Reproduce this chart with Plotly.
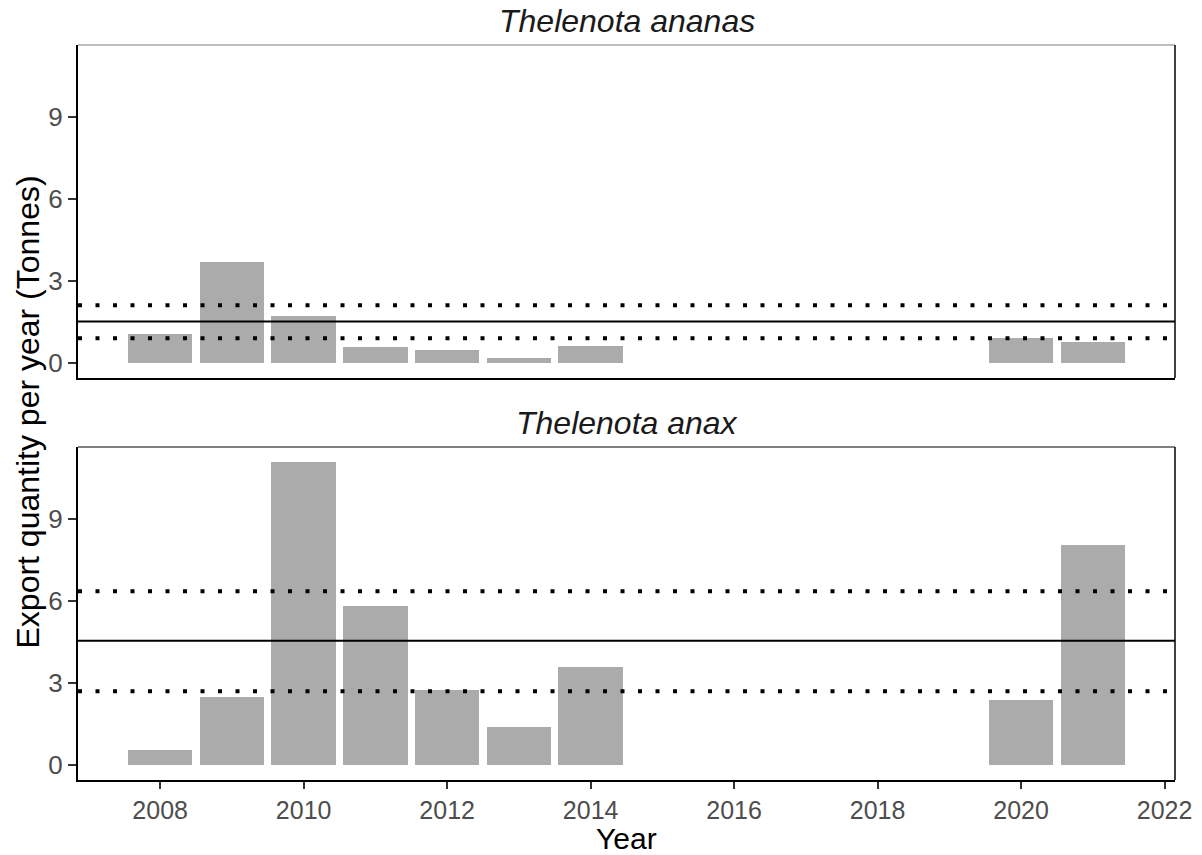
import plotly.graph_objects as go

# Annual export quantities (tonnes) per species
years = [2008, 2009, 2010, 2011, 2012, 2013, 2014, 2020, 2021]
ananas_tonnes = [1.07, 3.69, 1.70, 0.58, 0.47, 0.19, 0.62, 0.92, 0.78]
anax_tonnes = [0.56, 2.47, 11.09, 5.81, 2.73, 1.38, 3.60, 2.36, 8.07]

# Mean and lower/upper reference levels per species
ananas_mean, ananas_low, ananas_high = 1.51, 0.90, 2.11
anax_mean, anax_low, anax_high = 4.55, 2.70, 6.36

species = ["Thelenota ananas", "Thelenota anax"]
x_ticks = [2008, 2010, 2012, 2014, 2016, 2018, 2020, 2022]
y_ticks = [0, 3, 6, 9]

FONT = "Liberation Sans, Arial, sans-serif"
BAR = "#ABABAB"
TICK_GREY = "#4D4D4D"

fig = go.Figure()
fig.add_trace(go.Bar(x=years, y=ananas_tonnes, width=0.9, marker=dict(color=BAR, line=dict(width=0)),
                     xaxis="x", yaxis="y", showlegend=False))
fig.add_trace(go.Bar(x=years, y=anax_tonnes, width=0.9, marker=dict(color=BAR, line=dict(width=0)),
                     xaxis="x2", yaxis="y2", showlegend=False))

ymax = max(max(ananas_tonnes), max(anax_tonnes))
pad = 0.05 * ymax
yrange = [-pad, ymax + pad]
xspan = (max(years) + 0.45) - (min(years) - 0.45)
xrange = [min(years) - 0.45 - 0.05 * xspan, max(years) + 0.45 + 0.05 * xspan]

common_y = dict(range=yrange, tickvals=y_ticks, ticks="outside", ticklen=8, tickwidth=2,
                tickcolor="#333333", showline=True, linecolor="black", linewidth=2,
                showgrid=False, zeroline=False, automargin=False,
                tickfont=dict(family=FONT, size=26, color=TICK_GREY))

fig.update_layout(
    width=1202, height=855,
    margin=dict(l=78, r=27, t=45, b=75),
    plot_bgcolor="white", paper_bgcolor="white",
    bargap=0,
    xaxis=dict(domain=[0, 1], range=xrange, anchor="y", showticklabels=False, ticks="",
               automargin=False,
               showline=True, linecolor="black", linewidth=2, showgrid=False, zeroline=False),
    yaxis=dict(domain=[0.547, 1], anchor="x", **common_y),
    xaxis2=dict(domain=[0, 1], range=xrange, anchor="y2", tickvals=x_ticks, ticks="outside",
                ticklen=7, tickwidth=2, tickcolor="#333333", automargin=False,
                showline=True, linecolor="black", linewidth=2, showgrid=False, zeroline=False,
                tickfont=dict(family=FONT, size=25, color=TICK_GREY)),
    yaxis2=dict(domain=[0, 0.453], anchor="x2", **common_y),
)

# Panel borders (top and right)
for xr, yr, top_col in [("x domain", "y domain", "#A8A8A8"), ("x2 domain", "y2 domain", "#555555")]:
    fig.add_shape(type="line", xref=xr, yref=yr, x0=0, x1=1, y0=1, y1=1,
                  line=dict(color=top_col, width=1.5), layer="above")
    fig.add_shape(type="line", xref=xr, yref=yr, x0=1, x1=1, y0=0, y1=1,
                  line=dict(color="black", width=1.5), layer="above")

# Reference lines: solid mean, dotted lower/upper levels
dot = "4px,13.5px"
for xr, yr, mean, low, high in [("x domain", "y", ananas_mean, ananas_low, ananas_high),
                                ("x2 domain", "y2", anax_mean, anax_low, anax_high)]:
    fig.add_shape(type="line", xref=xr, yref=yr, x0=0, x1=1, y0=mean, y1=mean,
                  line=dict(color="black", width=2), layer="above")
    for lvl in (low, high):
        fig.add_shape(type="line", xref=xr, yref=yr, x0=0, x1=1, y0=lvl, y1=lvl,
                      line=dict(color="black", width=4, dash=dot), layer="above")

# Panel strip titles
for name, ydom in zip(species, [1.0, 0.453]):
    fig.add_annotation(text=f"<i>{name}</i>", xref="paper", yref="paper", x=0.5, y=ydom,
                       yanchor="bottom", yshift=4, showarrow=False,
                       font=dict(family=FONT, size=32, color="#1A1A1A"))

# Axis titles
fig.add_annotation(text="Year", xref="paper", yref="paper", x=0.5, y=0, yanchor="top",
                   yshift=-40, showarrow=False, font=dict(family=FONT, size=30, color="black"))
fig.add_annotation(text="Export quantity per year (Tonnes)", xref="paper", yref="paper",
                   x=0, y=0.5, xanchor="right", xshift=-31, textangle=-90, showarrow=False,
                   font=dict(family=FONT, size=32, color="black"))

fig.write_html("out.html")
